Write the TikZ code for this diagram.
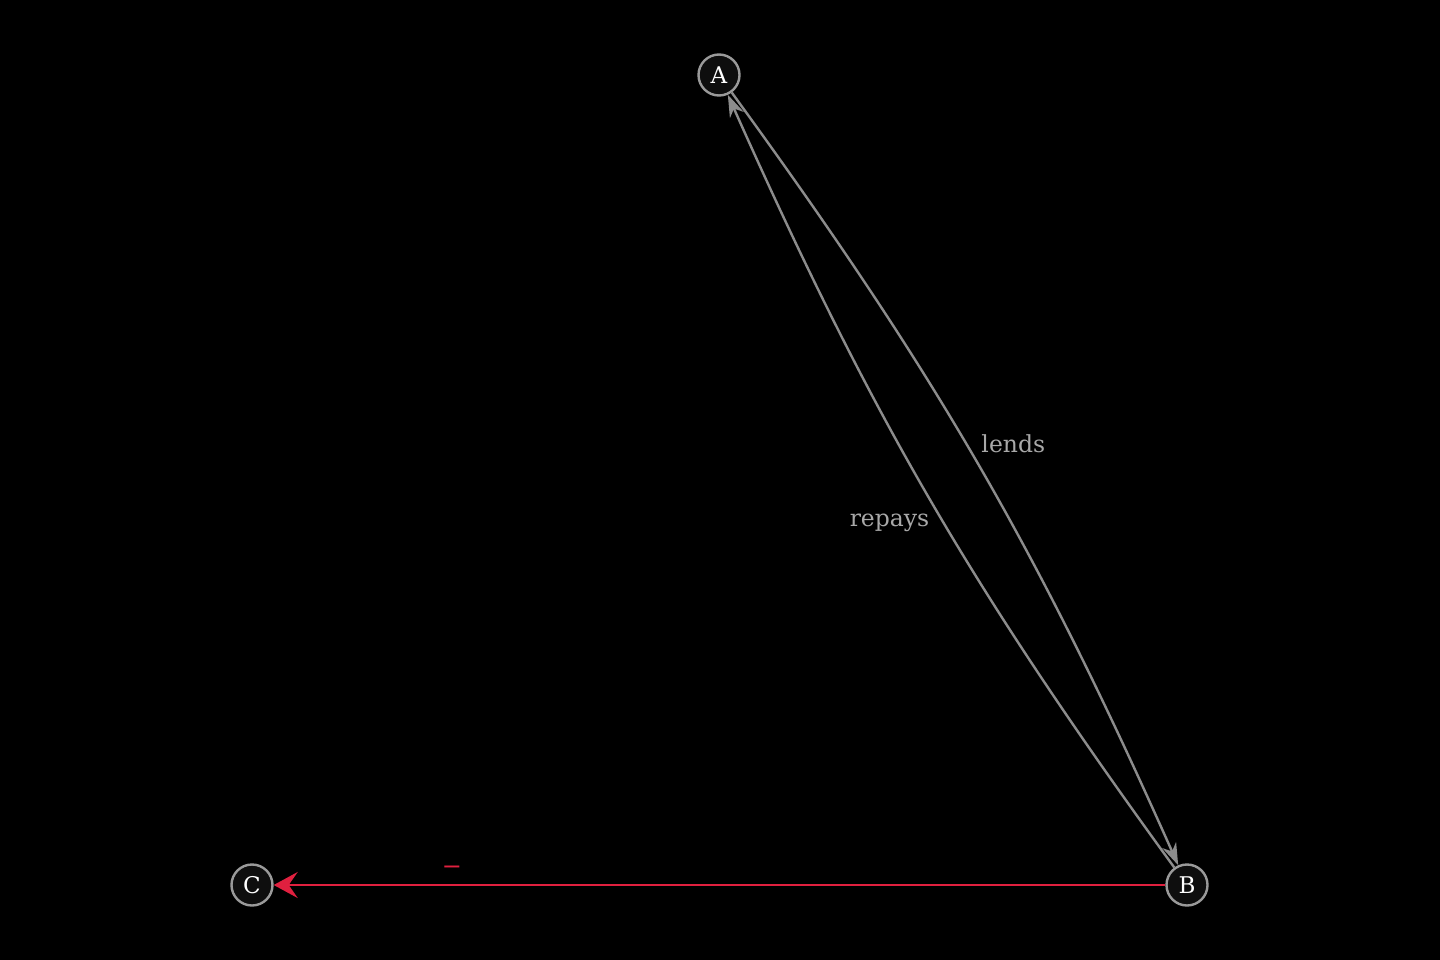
\documentclass[tikz,border=0pt]{standalone}
\usepackage{fontspec}
\setmainfont{DejaVu Serif}
\usetikzlibrary{arrows.meta}
\definecolor{edgegray}{HTML}{8C8C8C}
\definecolor{nodegray}{HTML}{9A9A9A}
\definecolor{nodefill}{HTML}{0E0E0E}
\definecolor{labgray}{HTML}{A8A8A8}
\definecolor{negred}{HTML}{E0203F}
\begin{document}
\begin{tikzpicture}[x=1pt,y=-1pt,
  vert/.style={circle, draw=nodegray, fill=nodefill, line width=2.4pt, minimum size=41pt, inner sep=0pt, text=white, font=\fontsize{23}{26}\selectfont},
  rel/.style={draw=edgegray, line width=2.4pt, -{Stealth[length=22pt,width=15pt,inset=7pt]}},
  neg/.style={draw=negred, line width=2.4pt, -{Stealth[length=24pt,width=26pt,inset=9pt]}},
  lab/.style={font=\fontsize{23.5}{27}\selectfont, text=labgray, inner sep=0pt}]
\fill[black] (0,0) rectangle (1440,960);
\useasboundingbox (0,0) rectangle (1440,960);
\node[vert] (A) at (719,75) {A};
\node[vert] (B) at (1187,885) {B};
\node[vert] (C) at (252,885) {C};
\draw[rel] (A) to[bend left=6] node[lab, pos=0.47, anchor=west, xshift=14pt] {lends} (B);
\draw[rel] (B) to[bend left=6] node[lab, pos=0.461, anchor=east, xshift=-13pt] {repays} (A);
\draw[neg] (B) -- node[pos=0.8, above=9pt, text=negred, inner sep=0pt, font=\fontsize{24}{28}\selectfont] {−} (C);
\end{tikzpicture}
\end{document}
